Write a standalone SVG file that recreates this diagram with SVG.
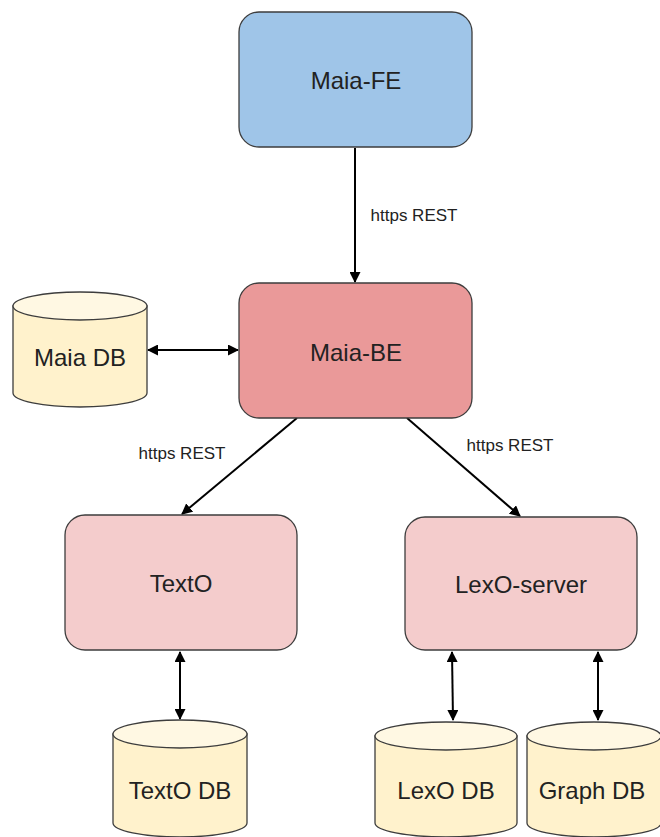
<svg xmlns="http://www.w3.org/2000/svg" width="660" height="837" viewBox="0 0 660 837">
<style>
.box{stroke:#3d3d3d;stroke-width:1.3}
.fe{fill:#9fc5e8}.be{fill:#ea9999}.svc{fill:#f4cccc}
.db{fill:#fff2cc;stroke:#3d3d3d;stroke-width:1.3}
.dbtop{fill:#fff8e3;stroke:#3d3d3d;stroke-width:1.3}
.t{font-family:"Liberation Sans",Arial,sans-serif;font-size:24px;fill:#222;text-anchor:middle;dominant-baseline:central}
.l{font-family:"Liberation Sans",Arial,sans-serif;font-size:17px;fill:#222;text-anchor:middle;dominant-baseline:central}
.c{stroke:#000;stroke-width:2;fill:none}
</style>
<defs>
<marker id="ah" markerWidth="11" markerHeight="11" refX="10" refY="5.5" orient="auto" markerUnits="userSpaceOnUse" viewBox="0 0 11 11">
<path d="M0,0 L11,5.5 L0,11 z" fill="#000"/>
</marker>
<marker id="as" markerWidth="11" markerHeight="11" refX="1" refY="5.5" orient="auto" markerUnits="userSpaceOnUse" viewBox="0 0 11 11">
<path d="M11,0 L0,5.5 L11,11 z" fill="#000"/>
</marker>
</defs>
<rect width="660" height="837" fill="#fff"/>
<g id="connectors">
<line class="c" x1="355" y1="148" x2="355" y2="282" marker-end="url(#ah)"/>
<line class="c" x1="148" y1="350" x2="238" y2="350" marker-start="url(#as)" marker-end="url(#ah)"/>
<line class="c" x1="297" y1="418" x2="182" y2="514" marker-end="url(#ah)"/>
<line class="c" x1="407" y1="418" x2="520" y2="516" marker-end="url(#ah)"/>
<line class="c" x1="180" y1="652" x2="180" y2="719" marker-start="url(#as)" marker-end="url(#ah)"/>
<line class="c" x1="452" y1="652" x2="453" y2="720" marker-start="url(#as)" marker-end="url(#ah)"/>
<line class="c" x1="598" y1="652" x2="598" y2="720" marker-start="url(#as)" marker-end="url(#ah)"/>
<text class="l" x="414" y="215">https REST</text>
<text class="l" x="182" y="453">https REST</text>
<text class="l" x="510" y="445">https REST</text>
</g>
<g id="maia-fe">
<rect class="box fe" x="239" y="12" width="233" height="135" rx="20"/>
<text class="t" x="356" y="80">Maia-FE</text>
</g>
<g id="maia-be">
<rect class="box be" x="239" y="283" width="233" height="135" rx="20"/>
<text class="t" x="356" y="352">Maia-BE</text>
</g>
<g id="texto">
<rect class="box svc" x="65" y="515" width="232" height="135" rx="20"/>
<text class="t" x="181" y="583">TextO</text>
</g>
<g id="lexo-server">
<rect class="box svc" x="405" y="517" width="232" height="133" rx="20"/>
<text class="t" x="521" y="584">LexO-server</text>
</g>
<g id="maia-db">
<path class="db" d="M13,306 L13,393 A67,14 0 0 0 147,393 L147,306 Z"/>
<ellipse class="dbtop" cx="80" cy="306" rx="67" ry="14"/>
<text class="t" x="80" y="357">Maia DB</text>
</g>
<g id="texto-db">
<path class="db" d="M113,734 L113,823 A67,14 0 0 0 247,823 L247,734 Z"/>
<ellipse class="dbtop" cx="180" cy="734" rx="67" ry="14"/>
<text class="t" x="180" y="790">TextO DB</text>
</g>
<g id="lexo-db">
<path class="db" d="M375,736 L375,823 A71,14 0 0 0 517,823 L517,736 Z"/>
<ellipse class="dbtop" cx="446" cy="736" rx="71" ry="14"/>
<text class="t" x="446" y="790">LexO DB</text>
</g>
<g id="graph-db">
<path class="db" d="M527,736 L527,823 A67,14 0 0 0 661,823 L661,736 Z"/>
<ellipse class="dbtop" cx="594" cy="736" rx="67" ry="14"/>
<text class="t" x="592" y="790">Graph DB</text>
</g>
</svg>
